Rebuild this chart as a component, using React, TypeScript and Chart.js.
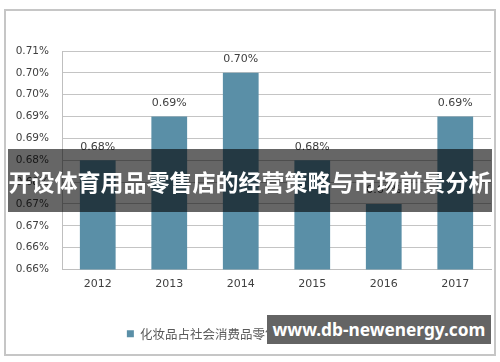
import React, { useEffect, useRef } from "react";
import { Chart, registerables } from "chart.js";

Chart.register(...registerables);

const years = ["2012", "2013", "2014", "2015", "2016", "2017"];
const shares = [0.685, 0.695, 0.705, 0.685, 0.675, 0.695];
const seriesName = "化妆品占社会消费品零售总额的比重：%";
const yMin = 0.66;
const yMax = 0.71;
const yStep = 0.005;
const bannerText = "开设体育用品零售店的经营策略与市场前景分析";
const watermarkText = "www.db-newenergy.com";

const barColor = "#5a8fa7";

const pct = (v: number) => (Math.floor(v * 100 + 1e-6) / 100).toFixed(2) + "%";

const valueLabels = {
  id: "valueLabels",
  afterDatasetsDraw(chart: any) {
    const ctx = chart.ctx;
    const meta = chart.getDatasetMeta(0);
    ctx.save();
    ctx.font = "11px 'DejaVu Sans'";
    ctx.fillStyle = "#404040";
    ctx.textAlign = "center";
    ctx.textBaseline = "bottom";
    meta.data.forEach((bar: any, i: number) => {
      const v = chart.data.datasets[0].data[i] as number;
      ctx.fillText(pct(v), bar.x, bar.y - 8);
    });
    ctx.restore();
  },
};

export default function App() {
  const ref = useRef<HTMLCanvasElement | null>(null);
  useEffect(() => {
    if (!ref.current) return;
    const chart = new Chart(ref.current, {
      type: "bar",
      data: {
        labels: years,
        datasets: [
          {
            label: seriesName,
            data: shares,
            backgroundColor: barColor,
            categoryPercentage: 1,
            barPercentage: 0.5,
          },
        ],
      },
      options: {
        animation: false,
        responsive: false,
        layout: { padding: { left: 0, right: 9, top: 51, bottom: 12 } },
        plugins: {
          tooltip: { enabled: false },
          legend: {
            position: "bottom",
            labels: {
              boxWidth: 7,
              boxHeight: 7,
              padding: 10,
              color: "#595959",
              font: { size: 12.5, family: "'Noto Sans CJK SC'" },
            },
          },
        },
        scales: {
          x: {
            grid: { display: false, drawTicks: false },
            border: { display: true, color: "#bfbfbf", width: 1 },
            ticks: {
              padding: 8,
              color: "#404040",
              font: { size: 11, family: "'DejaVu Sans'" },
            },
            afterFit: (s: any) => {
              s.height = 48;
            },
          },
          y: {
            min: yMin,
            max: yMax,
            grid: { color: "#c4c4c4", drawTicks: false },
            border: { display: true, color: "#bfbfbf", width: 1 },
            ticks: {
              stepSize: yStep,
              padding: 13,
              color: "#404040",
              font: { size: 10.5, family: "'DejaVu Sans'" },
              callback: (v: any) => pct(Number(v)),
            },
            afterFit: (s: any) => {
              s.width = 62;
            },
          },
        },
      },
      plugins: [valueLabels],
    });
    return () => chart.destroy();
  }, []);

  return (
    <div style={{ position: "fixed", left: 0, top: 0, width: 500, height: 362, background: "#fff" }}>
      <canvas ref={ref} width={500} height={362} style={{ position: "absolute", left: 0, top: 0 }} />
      <div
        style={{
          position: "absolute",
          left: 4,
          top: 9,
          width: 488,
          height: 343,
          border: "2px solid #c6c6c6",
          pointerEvents: "none",
        }}
      />
      <div
        style={{
          position: "absolute",
          left: 8,
          top: 149,
          width: 484,
          height: 63,
          background: "rgba(0,0,0,0.6)",
          color: "#fff",
          fontFamily: "'Noto Sans CJK SC'",
          fontWeight: 700,
          fontSize: 23,
          display: "flex",
          alignItems: "center",
          justifyContent: "center",
          whiteSpace: "nowrap",
          overflow: "hidden",
        }}
      >
        {bannerText}
      </div>
      <div
        style={{
          position: "absolute",
          left: 267,
          top: 315,
          width: 224,
          height: 29,
          background: "#646464",
          color: "#fff",
          fontFamily: "'Noto Sans'",
          fontWeight: 700,
          fontSize: 17.3,
          display: "flex",
          alignItems: "center",
          justifyContent: "center",
          whiteSpace: "nowrap",
        }}
      >
        {watermarkText}
      </div>
    </div>
  );
}
